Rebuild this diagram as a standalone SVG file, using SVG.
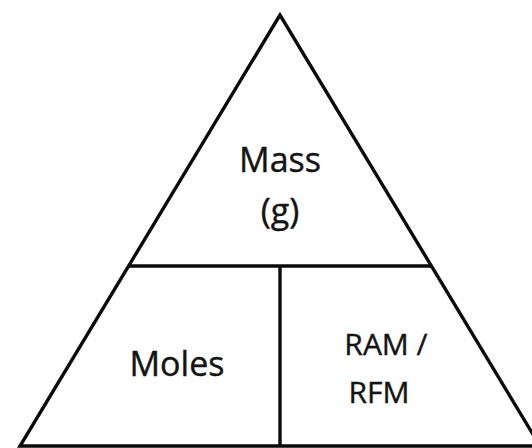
<svg xmlns="http://www.w3.org/2000/svg" width="532" height="448" viewBox="0 0 532 448">
  <style>
    .edge { fill: none; stroke: #0a0a0a; stroke-width: 3.4; stroke-linejoin: miter; }
    .lbl { font-family: "Open Sans", "Liberation Sans", sans-serif; fill: #141414; text-anchor: middle; stroke: #141414; stroke-width: 0.4; }
    .big { font-size: 34px; }
    .small { font-size: 30px; }
  </style>
  <rect width="532" height="448" fill="#fff"/>
  <!-- outer triangle and its dividing lines -->
  <g id="frame">
    <polygon class="edge" points="280,15 20,446 540,446"/>
    <line class="edge" x1="128" y1="266" x2="432" y2="266"/>
    <line class="edge" x1="280" y1="266" x2="280" y2="446"/>
  </g>
  <g id="mass">
    <text class="lbl big" x="280" y="172">Mass</text>
    <text class="lbl big" x="280" y="223">(g)</text>
  </g>
  <g id="moles">
    <text class="lbl big" x="177" y="376">Moles</text>
  </g>
  <g id="ram-rfm">
    <text class="lbl small" x="386" y="355">RAM /</text>
    <text class="lbl small" x="379" y="403">RFM</text>
  </g>
</svg>
